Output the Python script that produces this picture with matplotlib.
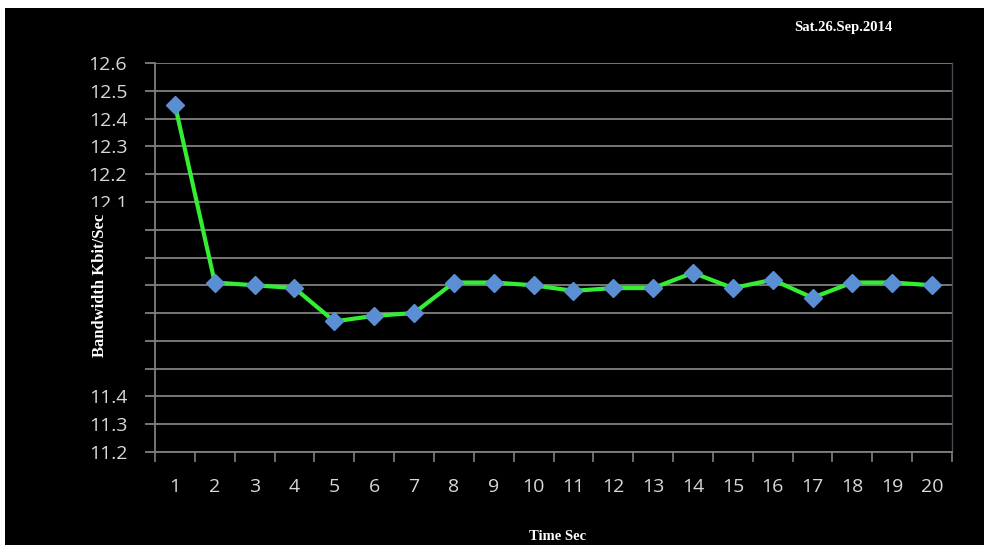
import matplotlib

matplotlib.use("Agg")
import matplotlib.pyplot as plt
from matplotlib.patches import Rectangle
import numpy as np

# data
seconds = list(range(1, 21))
bandwidth = [12.45, 11.81, 11.80, 11.79, 11.67, 11.69, 11.70, 11.81, 11.81, 11.80,
             11.78, 11.79, 11.79, 11.845, 11.79, 11.82, 11.755, 11.81, 11.81, 11.80]
y_ticks = [11.2, 11.3, 11.4, 11.5, 11.6, 11.7, 11.8, 11.9, 12.0, 12.1, 12.2, 12.3, 12.4, 12.5, 12.6]
# labels 11.5 .. 12.0 sit behind the y-label box in the reference
hidden_ticks = [11.5, 11.6, 11.7, 11.8, 11.9, 12.0]
date_label = "Sat.26.Sep.2014"

GRID = "#808080"
TICK_TXT = "#d9d9d9"
TICK_FONT = ["Open Sans", "DejaVu Sans"]
LABEL_FONT = ["Liberation Serif", "DejaVu Serif"]

fig = plt.figure(figsize=(9.84, 5.45), dpi=100, facecolor="white")
# black panel, white strip on the left and top
fig.patches.append(Rectangle((5 / 984, 0), 1 - 5 / 984, (545 - 8) / 545,
                             transform=fig.transFigure, facecolor="black",
                             edgecolor="none", zorder=-10))

ax = fig.add_axes([155 / 984, (545 - 452) / 545, (952 - 155) / 984, (452 - 63) / 545])
ax.set_facecolor("black")

ax.plot(seconds, bandwidth, color="#33ee33", lw=3, zorder=3)
ax.plot(seconds, bandwidth, ls="none", marker="D", ms=9.5, color="#5b8fd3",
        markeredgecolor="#5b8fd3", zorder=4)

ax.set_xlim(0.5, 20.5)
ax.set_ylim(11.2, 12.6)
ax.set_yticks(y_ticks)
ax.set_yticklabels(["" if v in hidden_ticks else f"{v:.1f}" for v in y_ticks])
ax.set_xticks(seconds)
ax.set_xticklabels([str(s) for s in seconds])
ax.set_xticks(np.arange(0.5, 21, 1.0), minor=True)

ax.grid(True, axis="y", color=GRID, lw=1.3, zorder=1)
ax.tick_params(axis="y", length=7, width=1.3, color=GRID, pad=13,
               labelsize=14, labelcolor=TICK_TXT)
ax.tick_params(axis="x", which="major", length=0, pad=19,
               labelsize=14, labelcolor=TICK_TXT)
ax.tick_params(axis="x", which="minor", length=7, width=1.2, color=GRID)
for lbl in ax.get_xticklabels() + ax.get_yticklabels():
    lbl.set_family(TICK_FONT)

ax.spines["top"].set_visible(False)
ax.spines["left"].set_color(GRID)
ax.spines["left"].set_linewidth(1.3)
ax.spines["bottom"].set_color(GRID)
ax.spines["bottom"].set_linewidth(1.3)
ax.spines["right"].set_color("#4a4a55")
ax.spines["right"].set_linewidth(1.0)

# black box over part of the y tick labels, holding the y label
fig.patches.append(Rectangle((78 / 984, (545 - 382) / 545), 50 / 984, 175 / 545,
                             transform=fig.transFigure, facecolor="black",
                             edgecolor="none", zorder=5))
fig.text(100 / 984, (545 - 285) / 545, "Bandwidth Kbit/Sec", rotation=90,
         ha="center", va="center", color="white", fontsize=12,
         fontweight="bold", family=LABEL_FONT, zorder=6)

fig.text(558 / 984, (545 - 530) / 545, "Time Sec", ha="center", va="top",
         color="white", fontsize=10.5, fontweight="bold", family=LABEL_FONT)
fig.text(843 / 984, (545 - 28) / 545, date_label, ha="center", va="center",
         color="white", fontsize=10.5, fontweight="bold", family=LABEL_FONT)

fig.savefig("out.png", dpi=100, facecolor=fig.get_facecolor())
